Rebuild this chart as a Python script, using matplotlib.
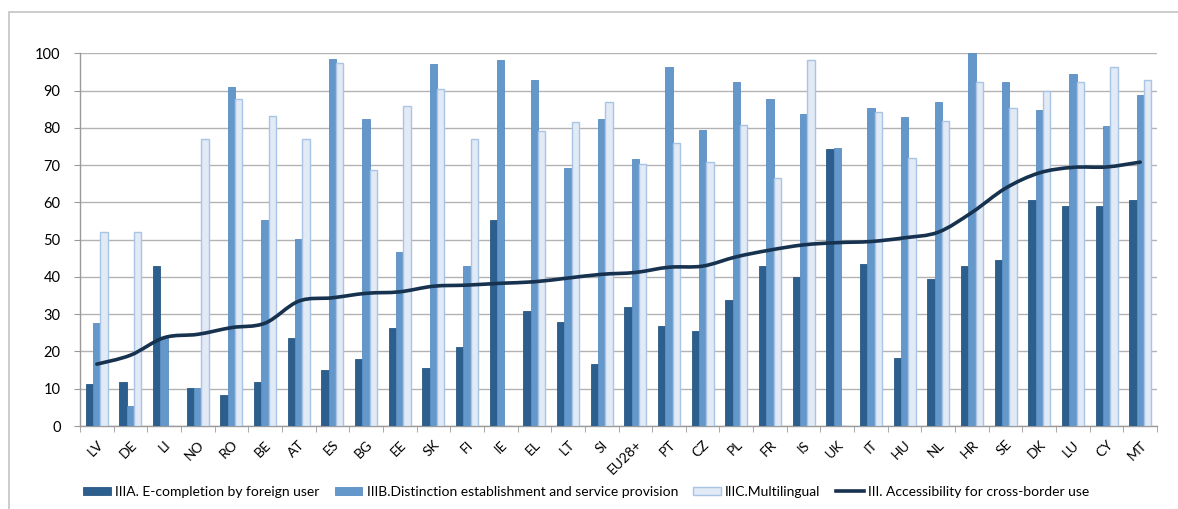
import matplotlib
matplotlib.use('Agg')

import numpy as np
import matplotlib.pyplot as plt
from matplotlib.path import Path
from matplotlib.patches import PathPatch, Rectangle
from matplotlib.lines import Line2D

plt.rcParams['font.family'] = ['Lato', 'DejaVu Sans']

# Countries, sorted by the overall accessibility score
countries = ['LV', 'DE', 'LI', 'NO', 'RO', 'BE', 'AT', 'ES', 'BG', 'EE', 'SK',
             'FI', 'IE', 'EL', 'LT', 'SI', 'EU28+', 'PT', 'CZ', 'PL', 'FR', 'IS',
             'UK', 'IT', 'HU', 'NL', 'HR', 'SE', 'DK', 'LU', 'CY', 'MT']

e_completion = [11.4, 11.9, 42.8, 10.1, 8.2, 11.9, 23.5, 14.9, 18.1, 26.3, 15.5,
                21.2, 55.2, 30.8, 28.0, 16.7, 32.0, 26.9, 25.5, 33.7, 43.0, 40.0,
                74.2, 43.6, 18.2, 39.4, 43.0, 44.5, 60.6, 59.1, 58.9, 60.6]

distinction = [27.7, 5.3, 23.5, 10.1, 90.9, 55.2, 50.1, 98.5, 82.4, 46.8, 97.0,
               42.8, 98.3, 92.9, 69.1, 82.4, 71.6, 96.3, 79.3, 92.3, 87.7, 83.8,
               74.5, 85.2, 83.0, 86.9, 100.0, 92.3, 84.7, 94.5, 80.6, 88.9]

multilingual = [52.0, 52.0, 0.0, 76.9, 87.7, 83.1, 77.1, 97.3, 68.6, 85.9, 90.4,
                76.9, 0.0, 79.2, 81.5, 86.9, 70.3, 75.9, 70.8, 80.8, 66.5, 98.1,
                0.0, 84.3, 71.8, 81.8, 92.4, 85.3, 89.9, 92.4, 96.4, 92.8]

accessibility = [16.6, 19.0, 23.7, 24.6, 26.4, 27.6, 33.5, 34.4, 35.6, 36.0, 37.5,
                 37.8, 38.3, 38.7, 39.7, 40.7, 41.2, 42.6, 42.9, 45.4, 47.2, 48.6,
                 49.2, 49.5, 50.5, 52.0, 57.3, 63.8, 67.9, 69.4, 69.5, 70.8]

labels = ['IIIA. E-completion by foreign user',
          'IIIB.Distinction establishment and service provision',
          'IIIC.Multilingual',
          'III. Accessibility for cross-border use']

dark = '#2D5F8E'
mid = '#6598CA'
light = '#E1EAF5'
navy = '#17324F'

fig = plt.figure(figsize=(11.78, 5.09), dpi=100)
ax = fig.add_axes([80 / 1178, 83 / 509, 1077 / 1178, 372.7 / 509])

x = np.arange(len(countries))
w = 0.218
ax.bar(x - w, e_completion, w, color=dark, edgecolor='#295783', linewidth=0.6,
       zorder=3, label=labels[0])
ax.bar(x, distinction, w, color=mid, edgecolor='#5A8EC2', linewidth=0.6,
       zorder=3, label=labels[1])
ax.bar(x + w, multilingual, w, color=light, edgecolor='#A9C5E5', linewidth=1.0,
       zorder=3, label=labels[2])

# smoothed line through the overall scores (cubic bezier segments)
pts = np.column_stack([x, accessibility]).astype(float)
ext = np.vstack([pts[0], pts, pts[-1]])
verts = [tuple(pts[0])]
codes = [Path.MOVETO]
for i in range(len(pts) - 1):
    p0, p1, p2, p3 = ext[i], ext[i + 1], ext[i + 2], ext[i + 3]
    c1 = p1 + (p2 - p0) / 6
    c2 = p2 - (p3 - p1) / 6
    verts += [tuple(c1), tuple(c2), tuple(p2)]
    codes += [Path.CURVE4] * 3
ax.add_patch(PathPatch(Path(verts, codes), facecolor='none', edgecolor=navy,
                       linewidth=2.6, capstyle='round', joinstyle='round', zorder=4))

ax.set_xlim(-0.5, len(countries) - 0.5)
ax.set_ylim(0, 100)
ax.set_yticks(range(0, 101, 10))
ax.yaxis.grid(True, color='#B3B3B3', linewidth=1.0, zorder=0)
ax.tick_params(axis='y', length=4, color='#9A9A9A', labelsize=10.5, pad=10)

ax.set_xticks(x)
ax.set_xticklabels(countries, rotation=45, ha='right', rotation_mode='anchor',
                   fontsize=10)
ax.set_xticks(np.arange(-0.5, len(countries)), minor=True)
ax.tick_params(axis='x', which='major', length=0, pad=9)
ax.tick_params(axis='x', which='minor', length=4, color='#9A9A9A')

for side in ['top', 'right']:
    ax.spines[side].set_visible(False)
for side in ['left', 'bottom']:
    ax.spines[side].set_color('#9A9A9A')
    ax.spines[side].set_linewidth(1.0)

handles, _ = ax.get_legend_handles_labels()
handles.append(Line2D([0], [0], color=navy, linewidth=2.6))
fig.legend(handles, labels, loc='center', bbox_to_anchor=(0.4975, 1 - 492 / 509),
           ncol=4, frameon=False, fontsize=10, handlelength=2.0,
           handleheight=0.55, handletextpad=0.3, columnspacing=1.1)

# chart area border
fig.patches.append(Rectangle((9 / 1178, -0.1), 1.2, 1.1 - 12 / 509,
                             transform=fig.transFigure, fill=False,
                             edgecolor='#C4C4C4', linewidth=1.2))

fig.savefig('out.png', dpi=100)
